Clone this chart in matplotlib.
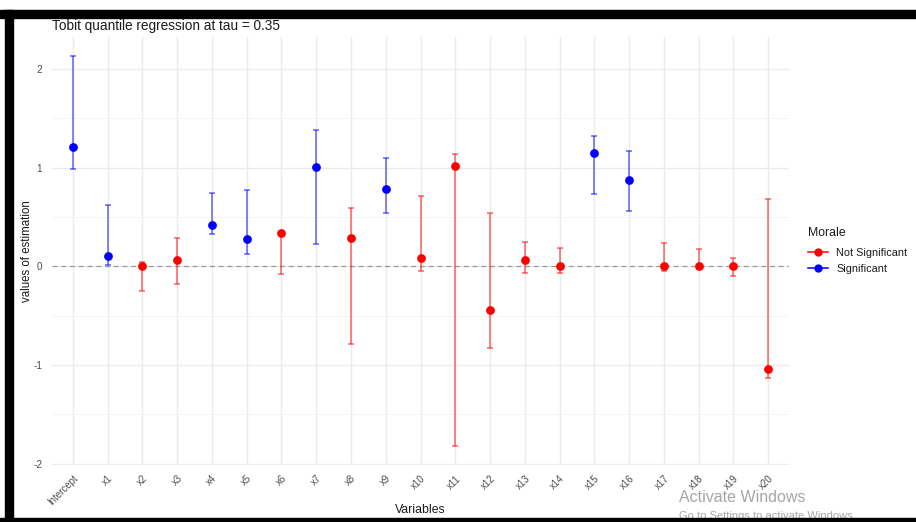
import matplotlib
matplotlib.use("Agg")
import matplotlib.pyplot as plt
from matplotlib.patches import Rectangle
from matplotlib.lines import Line2D
import numpy as np

plt.rcParams['font.family'] = ['Liberation Sans', 'DejaVu Sans']

# Estimates and interval bounds per variable
variables = ["Intercept", "x1", "x2", "x3", "x4", "x5", "x6", "x7", "x8", "x9", "x10",
             "x11", "x12", "x13", "x14", "x15", "x16", "x17", "x18", "x19", "x20"]
estimate = [1.21, 0.11, 0.00, 0.07, 0.42, 0.28, 0.34, 1.01, 0.29, 0.78, 0.09,
            1.02, -0.44, 0.07, 0.00, 1.15, 0.88, 0.00, 0.00, 0.00, -1.04]
lower = [0.99, 0.01, -0.25, -0.18, 0.33, 0.13, -0.08, 0.23, -0.79, 0.54, -0.045,
         -1.82, -0.83, -0.07, -0.065, 0.73, 0.56, -0.045, -0.03, -0.10, -1.13]
upper = [2.13, 0.62, 0.05, 0.29, 0.74, 0.77, 0.35, 1.38, 0.59, 1.10, 0.71,
         1.14, 0.54, 0.25, 0.19, 1.32, 1.17, 0.24, 0.18, 0.087, 0.68]
significant = [True, True, False, False, True, True, False, True, False, True, False,
               False, False, False, False, True, True, False, False, False, False]

legend_labels = ["Not Significant", "Significant"]
palette = {False: "#FF0000", True: "#0000FF"}

W, H = 916, 522
fig = plt.figure(figsize=(W / 100, H / 100), dpi=100)
fig.patch.set_facecolor("white")

ax = fig.add_axes([52 / W, 1 - 465 / H, (789 - 52) / W, (465 - 37) / H])
ax.set_facecolor("white")
for s in ax.spines.values():
    s.set_visible(False)

xpos = np.arange(1, len(variables) + 1)
ax.set_xlim(0.4, len(variables) + 0.6)
ax.set_ylim(-2.013, 2.326)

# grid in the theme_minimal style
for y in [-1.5, -0.5, 0.5, 1.5]:
    ax.axhline(y, color="#F2F2F2", lw=0.6, zorder=0)
for y in [-2, -1, 0, 1, 2]:
    ax.axhline(y, color="#EBEBEB", lw=1.0, zorder=0)
for x in xpos:
    ax.axvline(x, color="#EBEBEB", lw=1.0, zorder=0)

ax.axhline(0, color="#9A9A9A", lw=0.9, ls=(0, (4, 3)), zorder=1)

est = np.array(estimate)
lo = np.array(lower)
hi = np.array(upper)
sig = np.array(significant)
for flag in [False, True]:
    m = sig == flag
    ax.errorbar(xpos[m], est[m], yerr=[est[m] - lo[m], hi[m] - est[m]],
                fmt="none", ecolor=palette[flag], alpha=0.6, elinewidth=1.1,
                capsize=2.5, capthick=1.1, zorder=2)
    ax.plot(xpos[m], est[m], "o", color=palette[flag], ms=6.3, mew=0, zorder=3)

ax.set_yticks([-2, -1, 0, 1, 2])
ax.set_yticklabels(["-2", "-1", "0", "1", "2"], fontsize=7.2, color="#4D4D4D")
ax.set_xticks(xpos)
ax.set_xticklabels(variables, rotation=45, ha="right", rotation_mode="anchor",
                   fontsize=7.0, color="#4D4D4D")
ax.tick_params(axis="both", length=0)
ax.tick_params(axis="y", pad=7)
ax.tick_params(axis="x", pad=6)

ax.set_ylabel("values of estimation", fontsize=8.3, color="#1A1A1A")
ax.yaxis.set_label_coords((27 - 52) / (789 - 52), 0.5)
ax.set_xlabel("Variables", fontsize=8.8, color="#1A1A1A")
ax.xaxis.set_label_coords(0.5, -(510 - 465) / (465 - 37))
ax.xaxis.label.set_va("center")
ax.yaxis.label.set_va("center")
fig.text(52 / W, 1 - 26 / H, "Tobit quantile regression at tau = 0.35",
         fontsize=9.8, color="#1A1A1A", ha="left", va="center")

handles = [Line2D([0], [0], color=palette[f], lw=1.1, marker="o", ms=6, mew=0,
                  alpha=1.0) for f in [False, True]]
leg = fig.legend(handles, legend_labels, title="Morale", loc="upper left",
                 bbox_to_anchor=(804 / W, 1 - 223 / H), frameon=False,
                 fontsize=7.8, title_fontsize=8.8, handlelength=1.8,
                 handletextpad=0.8, labelspacing=0.6, borderaxespad=0)
leg._legend_box.align = "left"
leg._legend_box.sep = 6
for t in leg.get_texts():
    t.set_color("#1A1A1A")
leg.get_title().set_color("#1A1A1A")

# system watermark text
fig.text(679 / W, 1 - 498 / H, "Activate Windows", fontsize=11.5,
         color="#A6A6A6", ha="left", va="center")
fig.text(679 / W, 1 - 516 / H, "Go to Settings to activate Windows", fontsize=8,
         color="#A6A6A6", ha="left", va="center")

# window frame
fig.patches.append(Rectangle((0, 1 - 18 / H), 1, 8 / H, transform=fig.transFigure,
                             color="black", zorder=10))
fig.patches.append(Rectangle((5 / W, 0), 8 / W, 1 - 10 / H, transform=fig.transFigure,
                             color="black", zorder=10))
fig.patches.append(Rectangle((0, 0), 1, 4.5 / H, transform=fig.transFigure,
                             color="black", zorder=10))
fig.add_artist(Line2D([0, 1], [1 - 9.5 / H, 1 - 9.5 / H], transform=fig.transFigure,
                      color="#CCCCCC", lw=0.8))

fig.savefig("out.png", dpi=100, facecolor="white")
